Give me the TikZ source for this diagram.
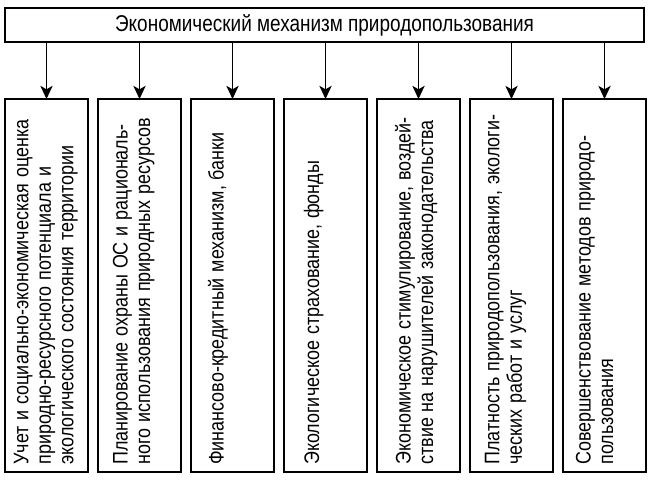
\documentclass[tikz,border=0pt]{standalone}
\usepackage{fontspec}
\usepackage{graphicx}
\setmainfont{Liberation Sans}
\usetikzlibrary{arrows.meta,positioning}

\newlength\linelen
\setlength\linelen{7.24cm}
% narrow (condensed) lines, like the scanned typeface
\newcommand\narrow[1]{\scalebox{0.85}[1]{#1}}
\newcommand\fullline[1]{\narrow{\makebox[\dimexpr\linelen*100/85\relax][s]{#1}}}

\begin{document}
\begin{tikzpicture}[>={Stealth[length=7.5pt,width=7pt,inset=2pt]},
                    node distance=0.2cm,
                    title box/.style={rectangle,draw,line width=1.1pt,minimum width=12.78cm,minimum height=0.68cm,inner sep=0pt,font=\fontsize{13}{15}\selectfont},
                    item box/.style={rectangle,draw,line width=1.1pt,outer sep=0pt,minimum width=1.66cm,minimum height=7.46cm,inner sep=0pt},
                    item text/.style={rotate=90,anchor=north west,inner sep=0pt,text width=\linelen,align=left,font=\fontsize{12}{12.8}\selectfont}]
  \useasboundingbox (0,0) rectangle (13,-9.6);
  \node[title box] (title) at (6.49,-0.5) {\scalebox{0.83}[1]{Экономический механизм природопользования}};
  \node[item box] (b1) at (0.93,-5.71) {};
  \node[item box] (b2) [right=of b1] {};
  \node[item box] (b3) [right=of b2] {};
  \node[item box] (b4) [right=of b3] {};
  \node[item box] (b5) [right=of b4] {};
  \node[item box] (b6) [right=of b5] {};
  \node[item box] (b7) [right=of b6] {};
  % rotated texts, read from bottom to top
  \node[item text] (t1) at ([xshift=0.17cm,yshift=0.14cm]b1.south west)
    {\fullline{Учет и социально-экономическая оценка}\\
     \fullline{природно-ресурсного потенциала и}\\
     \fullline{экологического состояния территории}};
  \node[item text] (t2) at ([xshift=0.29cm,yshift=0.14cm]b2.south west)
    {\fullline{Планирование охраны ОС и рациональ-}\\
     \fullline{ного использования природных ресурсов}};
  \node[item text] (t3) at ([xshift=0.33cm,yshift=0.14cm]b3.south west)
    {\fullline{Финансово-кредитный механизм, банки}};
  \node[item text] (t4) at ([xshift=0.39cm,yshift=0.14cm]b4.south west)
    {\narrow{Экологическое страхование, фонды}};
  \node[item text] (t5) at ([xshift=0.35cm,yshift=0.14cm]b5.south west)
    {\fullline{Экономическое стимулирование, воздей-}\\
     \fullline{ствие на нарушителей законодательства}};
  \node[item text] (t6) at ([xshift=0.29cm,yshift=0.14cm]b6.south west)
    {\fullline{Платность природопользования, экологи-}\\
     \narrow{ческих работ и услуг}};
  \node[item text] (t7) at ([xshift=0.25cm,yshift=0.14cm]b7.south west)
    {\fullline{Совершенствование методов природо-}\\
     \narrow{пользования}};
  \path[->,line width=0.8pt]
    (title.south -| b1.north) edge (b1.north)
    (title.south -| b2.north) edge (b2.north)
    (title.south -| b3.north) edge (b3.north)
    (title.south -| b4.north) edge (b4.north)
    (title.south -| b5.north) edge (b5.north)
    (title.south -| b6.north) edge (b6.north)
    (title.south -| b7.north) edge (b7.north);
\end{tikzpicture}
\end{document}
